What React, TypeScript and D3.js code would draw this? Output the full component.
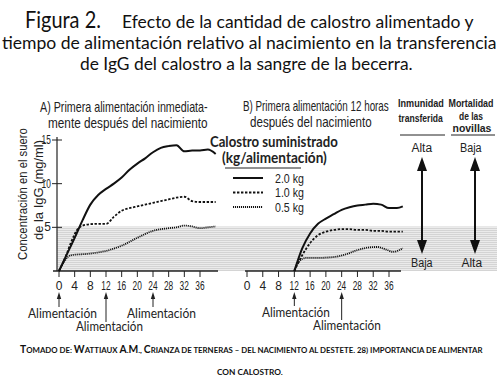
import React, { useLayoutEffect, useRef, useState } from "react";
import * as d3 from "d3";

// ---- data ----
const hoursTicks = [0, 4, 8, 12, 16, 20, 24, 28, 32, 36];
const yTicks = [5, 10, 15];
const seriesNames = ["2.0 kg", "1.0 kg", "0.5 kg"];

// Panel A: first feeding right after birth (hour, IgG mg/ml)
const a2kg: [number, number][] = [
  [0, 0], [2, 1.9], [4, 3.8], [6, 5.8], [8, 7.6], [10, 8.7], [12, 9.4], [14, 10.0], [16, 10.7],
  [18, 11.6], [20, 12.3], [22, 12.9], [24, 13.6], [26, 14.1], [28, 14.3], [30, 14.4],
  [32, 13.7], [34, 13.8], [36, 13.8], [38, 13.9], [40, 13.4],
];
const a1kg: [number, number][] = [
  [0, 0], [2, 2.0], [3, 3.2], [5, 4.9], [7, 5.3], [10, 5.4], [12, 5.4], [14, 6.2], [16, 6.9],
  [18, 7.2], [20, 7.4], [22, 7.6], [24, 7.8], [26, 8.0], [28, 8.2], [30, 8.4], [32, 8.5],
  [34, 8.0], [36, 7.9], [38, 7.9], [40, 7.9],
];
const a05kg: [number, number][] = [
  [0, 0], [3, 1.8], [8, 2.0], [12, 2.3], [16, 2.9], [20, 3.8], [24, 4.6], [28, 4.9],
  [30, 5.0], [32, 5.2], [34, 5.1], [36, 4.9], [38, 5.0], [40, 5.1],
];
// Panel B: first feeding 12 hours after birth
const b2kg: [number, number][] = [
  [12, 0], [14, 2.6], [16, 4.3], [18, 5.4], [20, 6.0], [22, 6.5], [24, 7.0], [26, 7.3],
  [28, 7.5], [30, 7.6], [32, 7.7], [34, 7.6], [36, 7.2], [38, 7.2], [39.5, 7.4],
];
const b1kg: [number, number][] = [
  [12, 0], [14, 1.8], [16, 3.2], [18, 4.1], [20, 4.5], [22, 4.7], [24, 4.8], [26, 4.8],
  [28, 4.7], [30, 4.7], [32, 4.6], [34, 4.6], [36, 4.5], [39.5, 4.5],
];
const b05kg: [number, number][] = [
  [12, 0], [13, 1.0], [15, 1.5], [18, 1.5], [22, 1.6], [25, 1.9], [28, 2.4], [31, 2.7],
  [33, 2.75], [35, 2.5], [37, 2.2], [39.5, 2.6],
];

const feedA = [0, 12, 24];
const feedB = [12, 24];

const COND = "'Liberation Sans Narrow', 'Liberation Sans', Arial, sans-serif";
const HUM = "Lato, 'Open Sans', sans-serif";

const styles = [
  { w: 2, dash: "" },
  { w: 1.8, dash: "2.4,1.6" },
  { w: 1.8, dash: "1.1,0.9" },
];

// Text squeezed horizontally (by a measured scale) to a target width
function Fit(props: any) {
  const { x, y, w, anchor = "start", children, ...rest } = props;
  const ref = useRef<SVGTextElement>(null);
  const [s, setS] = useState(1);
  useLayoutEffect(() => {
    if (ref.current) {
      const n = ref.current.getBBox().width;
      if (n > 0) setS(w / n);
    }
  }, [w]);
  const x0 = anchor === "middle" ? x - w / 2 : anchor === "end" ? x - w : x;
  return (
    <text ref={ref} transform={`translate(${x0},${y}) scale(${s},1)`} x={0} y={0} {...rest}>
      {children}
    </text>
  );
}

// manual small caps: capitals large, lowercase as smaller capitals
function smallCaps(str: string, big: number, small: number) {
  const runs: { t: string; big: boolean }[] = [];
  for (const ch of str) {
    const isBig = ch !== ch.toLowerCase() || /[0-9().,:–\-]/.test(ch) && false;
    const up = ch.toUpperCase();
    const last = runs[runs.length - 1];
    if (last && last.big === isBig) last.t += up;
    else runs.push({ t: up, big: isBig });
  }
  return runs.map((r, i) => (
    <tspan key={i} fontSize={r.big ? big : small}>{r.t}</tspan>
  ));
}

export default function App() {
  const y = d3.scaleLinear().domain([0, 15]).range([271, 140]);
  const xA = d3.scaleLinear().domain([0, 36]).range([59, 200]);
  const xB = d3.scaleLinear().domain([0, 36]).range([247, 389]);

  const mk = (x: d3.ScaleLinear<number, number>) =>
    d3.line<[number, number]>().x((d) => x(d[0])).y((d) => y(d[1])).curve(d3.curveMonotoneX);
  const lineA = mk(xA);
  const lineB = mk(xB);
  const seriesA = [a2kg, a1kg, a05kg];
  const seriesB = [b2kg, b1kg, b05kg];

  const dblArrow = (x: number, y1: number, y2: number) => (
    <g>
      <line x1={x} x2={x} y1={y1 + 8} y2={y2 - 8} stroke="#111" strokeWidth={2} />
      <path d={`M${x},${y1} L${x - 5},${y1 + 14} L${x + 5},${y1 + 14} Z`} fill="#111" />
      <path d={`M${x},${y2} L${x - 5},${y2 - 14} L${x + 5},${y2 - 14} Z`} fill="#111" />
    </g>
  );

  const smallArrow = (x: number, y1: number, y2: number, key: string) => (
    <g key={key}>
      <line x1={x} x2={x} y1={y1 + 3} y2={y2} stroke="#222" strokeWidth={1} />
      <path d={`M${x},${y1} L${x - 2.2},${y1 + 7} L${x + 2.2},${y1 + 7} Z`} fill="#222" />
    </g>
  );

  const tickText = (t: number, x: number, yy: number, anchor: string) =>
    t >= 10 ? (
      <Fit x={x} y={yy} w={9.5} anchor={anchor} fontFamily={COND} fontSize={12} fill="#222">{t}</Fit>
    ) : (
      <text x={x} y={yy} textAnchor={anchor} fontFamily={COND} fontSize={12} fill="#222">{t}</text>
    );

  return (
    <svg width={500} height={380} style={{ position: "absolute", left: 0, top: 0, background: "#fff" }}>
      <defs>
        <pattern id="stripes" width="4" height="2" patternUnits="userSpaceOnUse">
          <rect width="4" height="2" fill="#ebebeb" />
          <rect width="4" height="1" fill="#d4d4d4" />
        </pattern>
      </defs>

      {/* Title */}
      <Fit x={25} y={28} w={76} fontFamily={HUM} fontSize={23} fill="#111">Figura 2.</Fit>
      <Fit x={122} y={28} w={352} fontFamily={HUM} fontSize={17} fill="#111">Efecto de la cantidad de calostro alimentado y</Fit>
      <Fit x={2} y={49} w={495} fontFamily={HUM} fontSize={17} fill="#111">tiempo de alimentación relativo al nacimiento en la transferencia</Fit>
      <Fit x={80} y={70} w={333} fontFamily={HUM} fontSize={17} fill="#111">de IgG del calostro a la sangre de la becerra.</Fit>

      {/* Shaded low zone */}
      <rect x={57} y={y(5.1)} width={440} height={271 - y(5.1)} fill="url(#stripes)" />

      {/* Panel subtitles */}
      <Fit x={40} y={112} w={168} fontFamily={COND} fontSize={14} fill="#222">A) Primera alimentación inmediata-</Fit>
      <Fit x={48} y={128} w={160} fontFamily={COND} fontSize={14} fill="#222">mente después del nacimiento</Fit>
      <Fit x={243} y={111} w={146} fontFamily={COND} fontSize={14} fill="#222">B) Primera alimentación 12 horas</Fit>
      <Fit x={250} y={127} w={122} fontFamily={COND} fontSize={14} fill="#222">después del nacimiento</Fit>

      {/* Y axis label */}
      <g transform="translate(27,194) rotate(-90)">
        <Fit x={0} y={0} w={132} anchor="middle" fontFamily={COND} fontSize={13.5} fill="#222">Concentración en el suero</Fit>
      </g>
      <g transform="translate(43,190) rotate(-90)">
        <Fit x={0} y={0} w={100} anchor="middle" fontFamily={COND} fontSize={13.5} fill="#222">de la IgG (mg/ml)</Fit>
      </g>

      {/* Y axis */}
      <line x1={57} x2={57} y1={137} y2={271} stroke="#222" strokeWidth={1.2} />
      {yTicks.map((t) => (
        <g key={t}>
          <line x1={52} x2={62} y1={y(t)} y2={y(t)} stroke="#222" strokeWidth={1} />
          {tickText(t, 51, y(t) + 4, "end")}
        </g>
      ))}

      {/* X axes */}
      <line x1={53} x2={218} y1={271} y2={271} stroke="#222" strokeWidth={1.5} />
      <line x1={245} x2={401} y1={271} y2={271} stroke="#222" strokeWidth={1.5} />
      {hoursTicks.map((t) => (
        <g key={"a" + t}>
          <line x1={xA(t)} x2={xA(t)} y1={271} y2={277} stroke="#222" strokeWidth={1} />
          {tickText(t, xA(t), 290, "middle")}
        </g>
      ))}
      {hoursTicks.map((t) => (
        <g key={"b" + t}>
          <line x1={xB(t)} x2={xB(t)} y1={271} y2={277} stroke="#222" strokeWidth={1} />
          {tickText(t, xB(t), 290, "middle")}
        </g>
      ))}

      {/* Curves */}
      {seriesA.map((s, i) => (
        <path key={"la" + i} d={lineA(s) || ""} fill="none" stroke="#111" strokeWidth={styles[i].w} strokeDasharray={styles[i].dash} />
      ))}
      {seriesB.map((s, i) => (
        <path key={"lb" + i} d={lineB(s) || ""} fill="none" stroke="#111" strokeWidth={styles[i].w} strokeDasharray={styles[i].dash} />
      ))}

      {/* Legend */}
      <Fit x={210} y={147} w={128} fontFamily={HUM} fontWeight={700} fontSize={14.5} fill="#222">Calostro suministrado</Fit>
      <Fit x={222} y={163} w={105} fontFamily={HUM} fontWeight={700} fontSize={14.5} fill="#222">(kg/alimentación)</Fit>
      <line x1={225} x2={301} y1={168} y2={168} stroke="#222" strokeWidth={1} />
      {seriesNames.map((n, i) => {
        const ly = [178, 192.5, 207][i];
        return (
          <g key={n}>
            <line x1={233} x2={263} y1={ly} y2={ly} stroke="#111" strokeWidth={styles[i].w} strokeDasharray={styles[i].dash} />
            <Fit x={275} y={ly + 4.5} w={29} fontFamily={COND} fontSize={12.5} fill="#222">{n}</Fit>
          </g>
        );
      })}

      {/* Right-side scale headers */}
      <Fit x={421} y={107} w={46} anchor="middle" fontFamily={COND} fontWeight={700} fontSize={11} fill="#222">Inmunidad</Fit>
      <Fit x={421} y={122} w={45} anchor="middle" fontFamily={COND} fontWeight={700} fontSize={11} fill="#222">transferida</Fit>
      <line x1={400} x2={445} y1={135} y2={135} stroke="#222" strokeWidth={1} />
      <Fit x={471} y={107} w={45} anchor="middle" fontFamily={COND} fontWeight={700} fontSize={11} fill="#222">Mortalidad</Fit>
      <Fit x={471} y={119.5} w={24} anchor="middle" fontFamily={COND} fontWeight={700} fontSize={11} fill="#222">de las</Fit>
      <Fit x={472} y={132} w={39} anchor="middle" fontFamily={COND} fontWeight={700} fontSize={11} fill="#222">novillas</Fit>
      <line x1={451} x2={495} y1={135} y2={135} stroke="#222" strokeWidth={1} />

      <Fit x={422} y={152} w={21} anchor="middle" fontFamily={COND} fontSize={13.5} fill="#222">Alta</Fit>
      <Fit x={471} y={152} w={22} anchor="middle" fontFamily={COND} fontSize={13.5} fill="#222">Baja</Fit>
      {dblArrow(422, 157, 254)}
      {dblArrow(475, 157, 254)}
      <Fit x={422} y={267} w={22} anchor="middle" fontFamily={COND} fontSize={13.5} fill="#222">Baja</Fit>
      <Fit x={472} y={267} w={21} anchor="middle" fontFamily={COND} fontSize={13.5} fill="#222">Alta</Fit>

      {/* Feeding annotations A */}
      {feedA.map((h) => smallArrow(xA(h), 292, h === 12 ? 322 : 307, "fa" + h))}
      <Fit x={28} y={318} w={69} fontFamily={HUM} fontSize={14} fill="#222">Alimentación</Fit>
      <Fit x={76} y={331} w={67} fontFamily={HUM} fontSize={14} fill="#222">Alimentación</Fit>
      <Fit x={127} y={318} w={69} fontFamily={HUM} fontSize={14} fill="#222">Alimentación</Fit>

      {/* Feeding annotations B */}
      {feedB.map((h) => smallArrow(xB(h), 292, h === 24 ? 320 : 306, "fb" + h))}
      <Fit x={262} y={317} w={68} fontFamily={HUM} fontSize={14} fill="#222">Alimentación</Fit>
      <Fit x={313} y={330} w={68} fontFamily={HUM} fontSize={14} fill="#222">Alimentación</Fit>

      {/* Source */}
      <Fit x={20} y={353} w={464} fontFamily={HUM} fontWeight={700} fill="#111">
        {smallCaps("Tomado de: Wattiaux A.M., Crianza de terneras – del nacimiento al destete. 28) importancia de alimentar", 10.5, 8)}
      </Fit>
      <Fit x={250} y={375} w={66} anchor="middle" fontFamily={HUM} fontWeight={700} fill="#111">
        {smallCaps("con calostro.", 10.5, 8)}
      </Fit>
    </svg>
  );
}
